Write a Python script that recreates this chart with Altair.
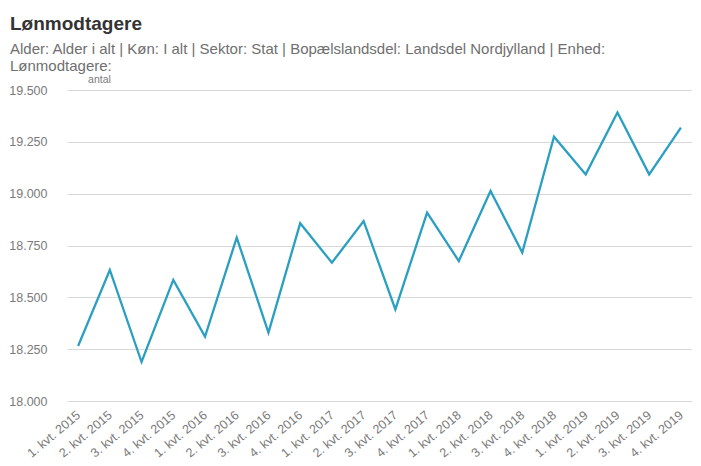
import altair as alt
import pandas as pd

quarters = [
    "1. kvt. 2015", "2. kvt. 2015", "3. kvt. 2015", "4. kvt. 2015",
    "1. kvt. 2016", "2. kvt. 2016", "3. kvt. 2016", "4. kvt. 2016",
    "1. kvt. 2017", "2. kvt. 2017", "3. kvt. 2017", "4. kvt. 2017",
    "1. kvt. 2018", "2. kvt. 2018", "3. kvt. 2018", "4. kvt. 2018",
    "1. kvt. 2019", "2. kvt. 2019", "3. kvt. 2019", "4. kvt. 2019",
]
values = [
    18265, 18632, 18188, 18584,
    18311, 18788, 18330, 18857,
    18667, 18868, 18442, 18909,
    18675, 19013, 18716, 19275,
    19093, 19391, 19093, 19319,
]
y_ticks = [18000, 18250, 18500, 18750, 19000, 19250, 19500]

df = pd.DataFrame({"kvartal": quarters, "antal": values})

FONT = "Liberation Sans"

chart = alt.Chart(df).mark_line(color="#2b9fc2", strokeWidth=2.3).encode(
    x=alt.X(
        "kvartal:N",
        sort=quarters,
        scale=alt.Scale(padding=0.35),
        axis=alt.Axis(
            title=None,
            labelAngle=-40,
            labelAlign="right",
            labelBaseline="middle",
            labelPadding=12,
            labelFontSize=12.5,
            labelColor="#7a7a7a",
            labelFont=FONT,
            ticks=False,
            domain=False,
            grid=False,
        ),
    ),
    y=alt.Y(
        "antal:Q",
        scale=alt.Scale(domain=[18000, 19500], nice=False, zero=False),
        axis=alt.Axis(
            title="antal",
            titleAngle=0,
            titleX=32,
            titleY=-6,
            titleAlign="center",
            titleBaseline="bottom",
            titleFontSize=10.5,
            titleFontWeight="normal",
            titleColor="#7a7a7a",
            titleFont=FONT,
            values=y_ticks,
            labelExpr="replace(format(datum.value, ',d'), ',', '.')",
            labelFontSize=12.5,
            labelColor="#7a7a7a",
            labelFont=FONT,
            labelPadding=20,
            ticks=False,
            domain=False,
            grid=True,
            gridColor="#d9d9d9",
            gridWidth=1,
        ),
    ),
).properties(
    width=625,
    height=311,
    title=alt.TitleParams(
        text="Lønmodtagere",
        subtitle=[
            "Alder: Alder i alt | Køn: I alt | Sektor: Stat | Bopælslandsdel: Landsdel Nordjylland | Enhed:",
            "Lønmodtagere:",
        ],
        anchor="start",
        frame="group",
        offset=0,
        font=FONT,
        fontSize=19,
        fontWeight="bold",
        color="#333333",
        subtitleFont=FONT,
        subtitleFontSize=15,
        subtitleColor="#6f6f6f",
        subtitleLineHeight=17,
        subtitlePadding=8,
        dx=-57,
    ),
).configure_view(stroke=None).properties(padding={"left": 0, "top": 7, "right": 0, "bottom": 0})

chart.save("out.html", embed_options={"renderer": "svg", "actions": False})
